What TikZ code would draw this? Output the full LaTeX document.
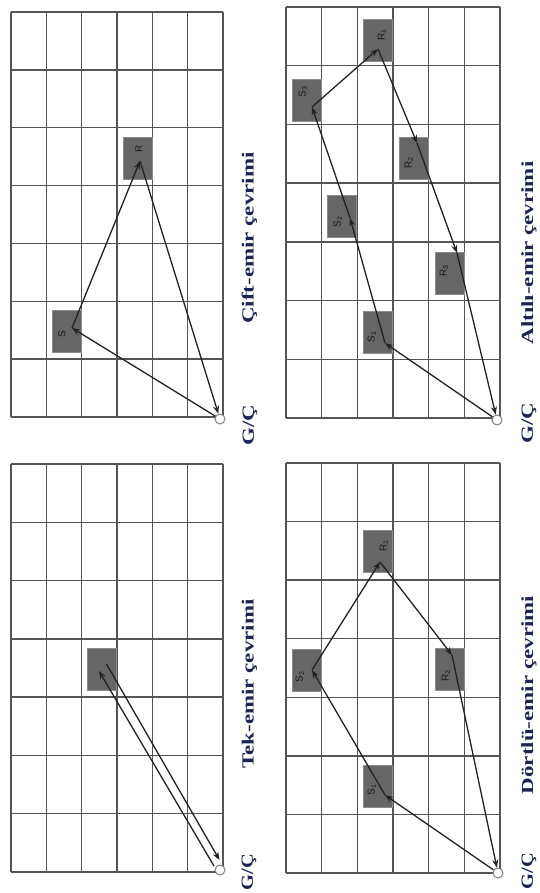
\documentclass[tikz,border=0pt]{standalone}
\usepackage{fontspec}
\setmainfont{Liberation Serif}
\setsansfont{Liberation Sans}
\usetikzlibrary{arrows.meta}

\definecolor{gridc}{HTML}{555555}
\definecolor{boxc}{HTML}{666666}
\definecolor{titlec}{HTML}{1B2452}
\definecolor{pathc}{HTML}{222222}

\tikzset{
  gridline/.style={draw=gridc, line width=1.4pt},
  gridtop/.style={draw=gridc, line width=2.6pt},
  slot/.style={rectangle, fill=boxc, draw=boxc!75!white, line width=0.6pt,
    minimum width=29pt, minimum height=42pt, inner sep=0pt},
  slotlabel/.style={rotate=90, font=\sffamily\fontsize{10}{10}\selectfont,
    text=black!90, inner sep=0pt},
  io/.style={circle, draw=gray, fill=white, line width=1pt,
    minimum size=10pt, inner sep=0pt},
  route/.style={draw=pathc, line width=1.3pt, -{Stealth[length=8pt,width=6pt]}},
  caption/.style={rotate=90, text=titlec, inner sep=0pt,
    font=\bfseries\fontsize{17}{17}\selectfont},
}

% rack grid: 6 columns x 7 rows between (x0,y0) and (x1,y1)
\newcommand\rackgrid[4]{%
  \foreach \i in {0,...,6}
    \draw[gridline] ({#1+\i*(#3-#1)/6},#2) -- ({#1+\i*(#3-#1)/6},#4);
  \foreach \j in {1,...,7}
    \draw[gridline] (#1,{#2+\j*(#4-#2)/7}) -- (#3,{#2+\j*(#4-#2)/7});
  \draw[gridtop] (#1,#2) -- (#3,#2);
}
\newcommand\stretchtxt[1]{\scalebox{1.35}[1]{#1}}

\begin{document}
\begin{tikzpicture}[x=1pt, y=-1pt]
\useasboundingbox (0,0) rectangle (539,893);

% ---------- racks ----------
\rackgrid{11}{12}{223}{417}
\rackgrid{11}{464}{223}{872}
\rackgrid{286}{7}{500}{418}
\rackgrid{286}{463}{500}{873}

% ---------- Cift-emir (top left) ----------
\node[slot] (aS) at (67,331) {};
\node[slot] (aR) at (138,158) {};
\node[slotlabel] (aSl) at (62,334) {S};
\node[slotlabel] (aRl) at (139,149) {R};
\node[io] (aIO) at (220,419) {};
\coordinate (aSv) at (72,328);
\coordinate (aRv) at (140,161);
\draw[route] (aIO) -- (aSv);
\draw[route] (aSv) -- (aRv);
\draw[route] (aRv) -- (aIO);
\node[caption] (aT) at (249.5,238) {\stretchtxt{Çift-emir çevrimi}};
\node[caption] (aG) at (250,425) {\stretchtxt{G/Ç}};

% ---------- Tek-emir (bottom left) ----------
\node[slot] (bS) at (102,669) {};
\node[io] (bIO) at (220,870) {};
\coordinate (bA0) at (214,866);
\coordinate (bA1) at (99,671);
\coordinate (bB0) at (106.5,664);
\coordinate (bB1) at (219.5,860);
\draw[route] (bA0) -- (bA1);
\draw[route] (bB0) -- (bB1);
\node[caption] (bT) at (249.5,684) {\stretchtxt{Tek-emir çevrimi}};
\node[caption] (bG) at (249,872) {\scalebox{1.2}[1]{G/Ç}};

% ---------- Altili-emir (top right) ----------
\node[slot] (cS1) at (378,332) {};
\node[slot] (cS2) at (342,216) {};
\node[slot] (cS3) at (307,100) {};
\node[slot] (cR1) at (378,40) {};
\node[slot] (cR2) at (414,158) {};
\node[slot] (cR3) at (450,273) {};
\node[slotlabel] (cS1l) at (372,337) {S\textsubscript{1}};
\node[slotlabel] (cS2l) at (338,222) {S\textsubscript{2}};
\node[slotlabel] (cS3l) at (303,92) {S\textsubscript{3}};
\node[slotlabel] (cR1l) at (382,35) {R\textsubscript{1}};
\node[slotlabel] (cR2l) at (409,163) {R\textsubscript{2}};
\node[slotlabel] (cR3l) at (444,271) {R\textsubscript{3}};
\node[io] (cIO) at (497,420) {};
\coordinate (cS1v) at (385,343);
\coordinate (cS2v) at (350,218);
\coordinate (cS3v) at (312,107);
\coordinate (cR1v) at (378,49);
\coordinate (cR2v) at (417,143);
\coordinate (cR3v) at (457,253);
\draw[route] (cIO) -- (cS1v);
\draw[route] (cS1v) -- (cS2v);
\draw[route] (cS2v) -- (cS3v);
\draw[route] (cS3v) -- (cR1v);
\draw[route] (cR1v) -- (cR2v);
\draw[route] (cR2v) -- (cR3v);
\draw[route] (cR3v) -- (cIO);
\node[caption] (cT) at (529,253) {\stretchtxt{Altılı-emir çevrimi}};
\node[caption] (cG) at (529,423) {\stretchtxt{G/Ç}};

% ---------- Dortlu-emir (bottom right) ----------
\node[slot] (dS1) at (378,786) {};
\node[slot] (dS2) at (307,670) {};
\node[slot] (dR1) at (378,551) {};
\node[slot] (dR2) at (450,669) {};
\node[slotlabel] (dS1l) at (372,790) {S\textsubscript{1}};
\node[slotlabel] (dS2l) at (300,677) {S\textsubscript{2}};
\node[slotlabel] (dR1l) at (384,546) {R\textsubscript{1}};
\node[slotlabel] (dR2l) at (446,676) {R\textsubscript{2}};
\node[io] (dIO) at (498,873) {};
\coordinate (dS1v) at (385,795);
\coordinate (dS2v) at (312,670);
\coordinate (dR1v) at (380,562);
\coordinate (dR2v) at (452,655);
\draw[route] (dIO) -- (dS1v);
\draw[route] (dS1v) -- (dS2v);
\draw[route] (dS2v) -- (dR1v);
\draw[route] (dR1v) -- (dR2v);
\draw[route] (dR2v) -- (dIO);
\node[caption] (dT) at (529,695) {\stretchtxt{Dörtlü-emir çevrimi}};
\node[caption] (dG) at (529,871) {\scalebox{1.2}[1]{G/Ç}};
\end{tikzpicture}
\end{document}
